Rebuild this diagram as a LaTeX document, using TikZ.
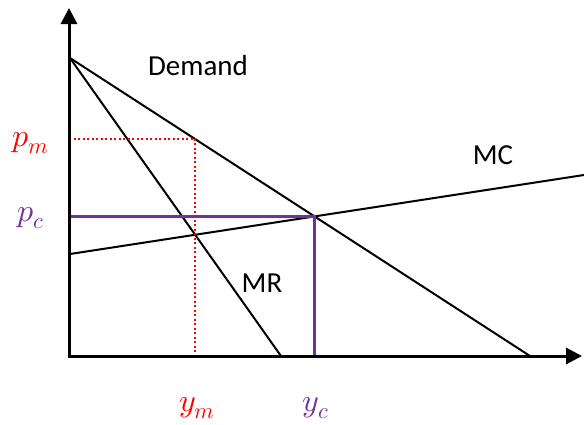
\documentclass[tikz,border=0pt]{standalone}
\usepackage{fontspec}
\usepackage{unicode-math}
\setmainfont{Carlito}
\setmathfont{Latin Modern Math}
\usetikzlibrary{arrows.meta,intersections}
\definecolor{mred}{RGB}{255,0,0}
\definecolor{mpurple}{RGB}{112,48,160}
\begin{document}
\begin{tikzpicture}[x=1pt,y=-1pt,
  axis/.style={line width=3pt,-{Triangle[width=16pt,length=16pt]}},
  curve/.style={line width=2pt,black},
  mono/.style={mred,line width=2pt,dash pattern=on 2pt off 2.5pt},
  comp/.style={mpurple,line width=2.4pt},
  lbl/.style={font=\fontsize{29}{33}\selectfont,inner sep=0pt},
  mlbl/.style={font=\fontsize{32}{36}\selectfont,inner sep=0pt}]
\useasboundingbox (0,0) rectangle (584,424);
\coordinate (O) at (69,356);
\coordinate (ytop) at (69,8);
\coordinate (xend) at (582,356);
\coordinate (A) at (70,58);
\coordinate (Dend) at (530,356);
\coordinate (MRend) at (281,356);
\coordinate (MC0) at (70,254);
\coordinate (MC1) at (584,175);
% curves
\draw[curve,name path=demand] (A) -- (Dend);
\draw[curve,name path=mr] (A) -- (MRend);
\draw[curve,name path=mc] (MC0) -- (MC1);
\path[name intersections={of=demand and mc,by=C}];
\path[name intersections={of=mr and mc,by=M}];
\coordinate (ym) at (M |- O);
\path[name path=vm] (ym) -- ++(0,-320);
\path[name intersections={of=vm and demand,by=P}];
\coordinate (pmy) at (O |- P);
\coordinate (pcy) at (O |- C);
\coordinate (yc) at (C |- O);
% monopoly dotted
\draw[mono] (pmy) -- (P) -- (ym);
% competitive
\draw[comp] (pcy) -- (C) -- (yc);
% axes
\draw[axis] (O) -- (ytop);
\draw[axis] ([xshift=-1.5pt]O) -- (xend);
% labels
\node[lbl] (ldem) at (198,66) {Demand};
\node[lbl] (lmc) at (493,155) {MC};
\node[lbl] (lmr) at (262,283) {MR};
\node[mlbl,text=mred] (lpm) at (31,143) {$p_m$};
\node[mlbl,text=mpurple] (lpc) at (31,218) {$p_c$};
\node[mlbl,text=mred] (lym) at (197,408) {$y_m$};
\node[mlbl,text=mpurple] (lyc) at (316,408) {$y_c$};
\end{tikzpicture}
\end{document}
